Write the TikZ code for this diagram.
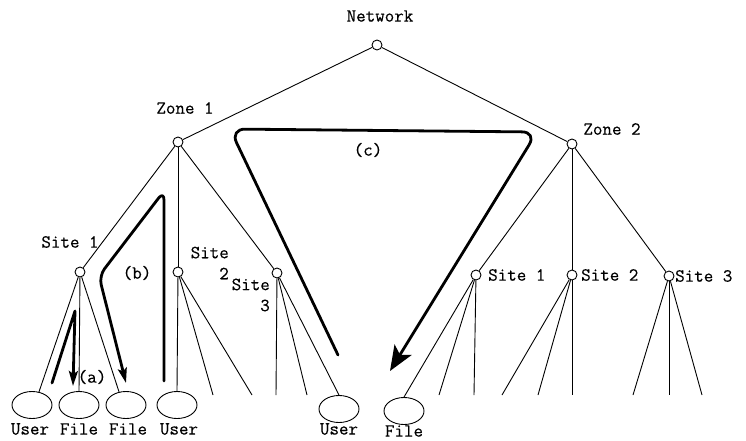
\documentclass[tikz,border=0pt]{standalone}
\usepackage{fontspec}
\newfontfamily\treefont[FakeBold=0.4]{Latin Modern Mono}
\usetikzlibrary{shapes.geometric,arrows.meta}
\tikzset{
  hub/.style={circle,draw,fill=white,inner sep=0pt,minimum size=10pt,line width=0.9pt},
  leaf/.style={ellipse,draw,inner sep=0pt,minimum width=40pt,minimum height=27pt,line width=0.9pt},
  lbl/.style={inner sep=0pt,font=\treefont\fontsize{18.5}{21}\selectfont},
  branch/.style={line width=0.9pt},
  route/.style={line width=2.8pt,line cap=round,line join=round},
  bigtip/.style={-{Stealth[length=25pt,width=20pt,inset=6pt]}},
  smalltip/.style={-{Stealth[length=15pt,width=9pt,inset=3pt]}}
}
\begin{document}
\begin{tikzpicture}[x=1pt,y=-1pt]
\useasboundingbox (0,0) rectangle (746,440);

% hierarchy nodes
\node[hub] (net) at (377,45) {};
\node[hub] (z1) at (178,142) {};
\node[hub] (z2) at (572,144) {};
\node[hub] (z1s1) at (80,272) {};
\node[hub] (z1s2) at (178,272) {};
\node[hub] (z1s3) at (277,273) {};
\node[hub] (z2s1) at (476,275) {};
\node[hub] (z2s2) at (572,275) {};
\node[hub] (z2s3) at (669,276) {};

% users and files
\node[leaf] (u1) at (32,405) {};
\node[leaf] (f1) at (79,405) {};
\node[leaf] (f2) at (126,405) {};
\node[leaf] (u2) at (177,405) {};
\node[leaf] (u3) at (339,409) {};
\node[leaf] (f3) at (404,411) {};

% open branch ends
\coordinate (e1) at (213,395);
\coordinate (e2) at (252,395);
\coordinate (e3) at (276,395);
\coordinate (e4) at (307,395);
\coordinate (e5) at (439,395);
\coordinate (e6) at (474,395);
\coordinate (e7) at (502,395);
\coordinate (e8) at (538,395);
\coordinate (e9) at (572,395);
\coordinate (e10) at (633,395);
\coordinate (e11) at (669,395);
\coordinate (e12) at (702,395);

% tree edges
\draw[branch] (net) -- (z1);
\draw[branch] (net) -- (z2);
\draw[branch] (z1) -- (z1s1);
\draw[branch] (z1) -- (z1s2);
\draw[branch] (z1) -- (z1s3);
\draw[branch] (z2) -- (z2s1);
\draw[branch] (z2) -- (z2s2);
\draw[branch] (z2) -- (z2s3);
\draw[branch] (z1s1) -- (u1.62);
\draw[branch] (z1s1) -- (f1.north);
\draw[branch] (z1s1) -- (f2.118);
\draw[branch] (z1s2) -- (u2.north);
\draw[branch] (z1s2) -- (e1);
\draw[branch] (z1s2) -- (e2);
\draw[branch] (z1s3) -- (e3);
\draw[branch] (z1s3) -- (e4);
\draw[branch] (z1s3) -- (u3.north);
\draw[branch] (z2s1) -- (f3.north);
\draw[branch] (z2s1) -- (e5);
\draw[branch] (z2s1) -- (e6);
\draw[branch] (z2s2) -- (e7);
\draw[branch] (z2s2) -- (e8);
\draw[branch] (z2s2) -- (e9);
\draw[branch] (z2s3) -- (e10);
\draw[branch] (z2s3) -- (e11);
\draw[branch] (z2s3) -- (e12);

% access routes
\coordinate (a0) at (52,383);
\coordinate (a1) at (75,311);
\coordinate (a2) at (73,386);
\draw[route,smalltip] (a0) -- (a1) -- (a2);

\coordinate (b0) at (164,381);
\coordinate (b1) at (164,191);
\coordinate (b2) at (99,276);
\coordinate (b3) at (126,383);
\draw[route,smalltip,rounded corners=9pt] (b0) -- (b1) -- (b2) -- (b3);

\coordinate (c0) at (338,355);
\coordinate (c1) at (230,129);
\coordinate (c2) at (537,132);
\coordinate (c3) at (390,371);
\draw[route,bigtip,rounded corners=15pt] (c0) -- (c1) -- (c2) -- (c3);

% labels
\node[lbl] (tnet) at (380,16) {Network};
\node[lbl] (tz1) at (185,108) {Zone 1};
\node[lbl] (tz2) at (612,129) {Zone 2};
\node[lbl] (tz1s1) at (70,242) {Site 1};
\node[lbl,align=right,anchor=east] (tz1s2) at (229,263) {Site\\2};
\node[lbl,align=right,anchor=east] (tz1s3) at (270,295) {Site\\3};
\node[lbl,anchor=west] (tz2s1) at (488,275) {Site 1};
\node[lbl,anchor=west] (tz2s2) at (581,275) {Site 2};
\node[lbl,anchor=west] (tz2s3) at (675,276) {Site 3};
\node[lbl] (ta) at (92,377) {(a)};
\node[lbl] (tb) at (137,273) {(b)};
\node[lbl] (tc) at (368,150) {(c)};
\node[lbl] (tu1) at (30,429) {User};
\node[lbl] (tf1) at (79,429) {File};
\node[lbl] (tf2) at (128,429) {File};
\node[lbl] (tu2) at (179,429) {User};
\node[lbl] (tu3) at (339,429) {User};
\node[lbl] (tf3) at (404,431) {File};
\end{tikzpicture}
\end{document}
